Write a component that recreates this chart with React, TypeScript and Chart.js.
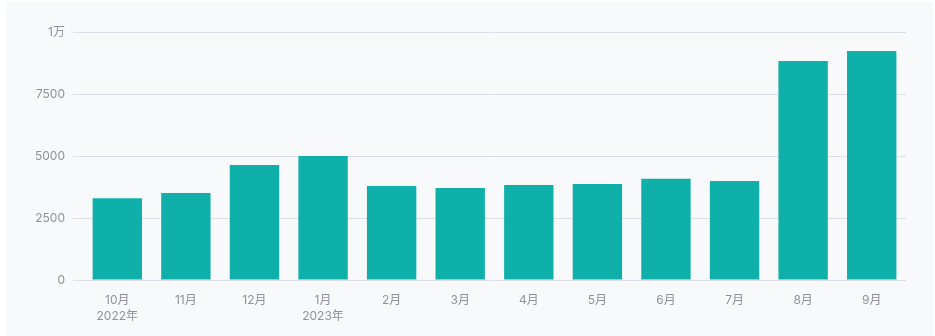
import React, { useEffect, useRef } from "react";
import { Chart, registerables } from "chart.js";

Chart.register(...registerables);

const categories: (string | string[])[] = [
  ["10月", "2022年"], "11月", "12月", ["1月", "2023年"], "2月", "3月",
  "4月", "5月", "6月", "7月", "8月", "9月",
];
const values: number[] = [3300, 3510, 4640, 5000, 3790, 3710, 3830, 3870, 4080, 3990, 8830, 9230];
const yTickValues: number[] = [0, 2500, 5000, 7500, 10000];
const yTickLabels: string[] = ["0", "2500", "5000", "7500", "1万"];

const FONT = "Inter, 'Noto Sans CJK SC', 'Noto Sans', sans-serif";

export default function App() {
  const ref = useRef<HTMLCanvasElement>(null);
  useEffect(() => {
    if (!ref.current) return;
    const chart = new Chart(ref.current, {
      type: "bar",
      data: {
        labels: categories,
        datasets: [
          {
            data: values,
            backgroundColor: "#10b0aa",
            barPercentage: 0.72,
            categoryPercentage: 1,
          },
        ],
      },
      options: {
        animation: false,
        responsive: false,
        maintainAspectRatio: false,
        layout: { padding: { top: 30, right: 27, left: 0, bottom: 0 } },
        plugins: { legend: { display: false }, tooltip: { enabled: false } },
        scales: {
          x: {
            grid: { display: false },
            border: { display: false },
            ticks: {
              color: "#8c919b",
              font: { family: FONT, size: 12, lineHeight: 1.35 },
              padding: 4,
              maxRotation: 0,
              autoSkip: false,
            },
            afterFit: (s: any) => {
              s.height = 56;
            },
          },
          y: {
            min: 0,
            max: 10000,
            afterBuildTicks: (s: any) => {
              s.ticks = yTickValues.map((v) => ({ value: v }));
            },
            grid: { color: "#dcdfe8", tickLength: 10, lineWidth: 1 },
            border: { display: false },
            ticks: {
              color: "#8c919b",
              font: { family: FONT, size: 12 },
              padding: 8,
              callback: (v: any) => {
                const i = yTickValues.indexOf(Number(v));
                return i >= 0 ? yTickLabels[i] : "";
              },
            },
            afterFit: (s: any) => {
              s.width = 77;
            },
          },
        },
      },
    });
    return () => chart.destroy();
  }, []);
  return (
    <div
      style={{
        position: "fixed",
        left: 6,
        top: 2,
        width: 927,
        height: 334,
        background: "#f8f9fb",
      }}
    >
      <canvas ref={ref} width={927} height={334} style={{ display: "block" }} />
    </div>
  );
}
